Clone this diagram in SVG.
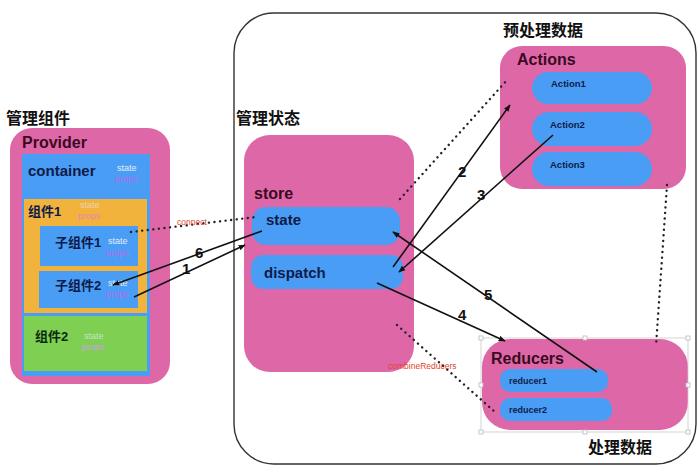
<svg xmlns="http://www.w3.org/2000/svg" width="700" height="476" viewBox="0 0 700 476">
<defs>
<marker id="ah" viewBox="0 0 10 10" refX="9" refY="5" markerWidth="7" markerHeight="7" orient="auto-start-reverse" markerUnits="userSpaceOnUse">
<path d="M0,1 L10,5 L0,9 Z" fill="#111"/>
</marker>
<style>
text{font-family:"Liberation Sans","Noto Sans CJK SC",sans-serif;}
.pink{fill:#DE67A8;}
.blue{fill:#4A9DF4;}
.h{font-size:16px;font-weight:bold;fill:#111;}
.title{font-size:16px;font-weight:bold;fill:#3A0A20;}
.nb{font-weight:bold;fill:#0E1B4A;}
.st{font-size:9px;fill:#E4ECFA;}
.pr{font-size:9px;fill:#B56BF0;}
.arr{stroke:#111;stroke-width:1.6;fill:none;marker-end:url(#ah);}
.dot{stroke:#222;stroke-width:2.4;fill:none;stroke-dasharray:0.1 5.5;stroke-linecap:round;}
.num{font-size:15px;font-weight:bold;fill:#111;}
.red{font-size:8.5px;fill:#E0442A;}
.sel{fill:none;stroke:#C8C8C8;stroke-width:0.8;}
.hd{fill:#fff;stroke:#BBB;stroke-width:0.8;}
</style>
</defs>
<rect width="700" height="476" fill="#fff"/>

<g id="outer">
<rect x="234" y="13" width="462" height="451" rx="40" fill="none" stroke="#333" stroke-width="1.4"/>
</g>

<g id="provider">
<text x="6" y="124" class="h">管理组件</text>
<rect x="10" y="128" width="160" height="256" rx="22" class="pink"/>
<text x="22" y="148" class="title">Provider</text>
<rect x="22" y="154" width="128" height="222" class="blue"/>
<text x="28" y="176" class="nb" font-size="15">container</text>
<text x="117" y="171" class="st">state</text>
<text x="115" y="182" class="pr">props</text>
</g>

<g id="comp1">
<rect x="24" y="199" width="123" height="114" fill="#F2B33D"/>
<text x="28" y="216" class="nb" font-size="13">组件1</text>
<text x="80" y="208" class="st" fill-opacity="0.6">state</text>
<text x="78" y="219" class="pr" style="fill:#E586B0">props</text>
</g>

<g id="child1">
<rect x="40" y="226" width="98" height="40" class="blue"/>
<text x="55" y="247" class="nb" font-size="13">子组件1</text>
<text x="108" y="244" class="st">state</text>
<text x="106" y="256" class="pr">props</text>
</g>

<g id="child2">
<rect x="39" y="271" width="99" height="37" class="blue"/>
<text x="55" y="290" class="nb" font-size="13">子组件2</text>
<text x="108" y="286" class="st">state</text>
<text x="106" y="297" class="pr">props</text>
</g>

<g id="comp2">
<rect x="24" y="316" width="123" height="55" fill="#7FCF52"/>
<text x="35" y="341" class="nb" font-size="13" style="fill:#0B2A10">组件2</text>
<text x="84" y="339" class="st" fill-opacity="0.7">state</text>
<text x="82" y="350" class="pr" style="fill:#C9A0E8">props</text>
</g>

<g id="store">
<text x="236" y="124" class="h">管理状态</text>
<rect x="244" y="135" width="170" height="237" rx="26" class="pink"/>
<text x="254" y="199" class="title">store</text>
</g>
<g id="state">
<rect x="252" y="207" width="148" height="38" rx="14" class="blue"/>
<text x="266" y="225" class="nb" font-size="15">state</text>
</g>
<g id="dispatch">
<rect x="251" y="255" width="152" height="34" rx="12" class="blue"/>
<text x="264" y="278" class="nb" font-size="15">dispatch</text>
</g>

<g id="actions">
<text x="503" y="36" class="h">预处理数据</text>
<rect x="500" y="46" width="186" height="143" rx="22" class="pink"/>
<text x="517" y="65" class="title">Actions</text>
</g>
<g id="action1">
<rect x="532" y="72" width="120" height="32" rx="16" class="blue"/>
<text x="551" y="87" class="nb" font-size="9.5">Action1</text>
</g>
<g id="action2">
<rect x="532" y="112" width="120" height="34" rx="17" class="blue"/>
<text x="550" y="128" class="nb" font-size="9.5">Action2</text>
</g>
<g id="action3">
<rect x="532" y="152" width="120" height="34" rx="17" class="blue"/>
<text x="550" y="168" class="nb" font-size="9.5">Action3</text>
</g>

<g id="reducers">
<rect x="482" y="339" width="206" height="91" rx="28" class="pink"/>
<rect x="481" y="338" width="207" height="94" class="sel"/>
<rect x="479" y="336" width="4" height="4" class="hd"/>
<rect x="583" y="336" width="4" height="4" class="hd"/>
<rect x="686" y="336" width="4" height="4" class="hd"/>
<rect x="479" y="383" width="4" height="4" class="hd"/>
<rect x="686" y="383" width="4" height="4" class="hd"/>
<rect x="479" y="430" width="4" height="4" class="hd"/>
<rect x="583" y="430" width="4" height="4" class="hd"/>
<rect x="686" y="430" width="4" height="4" class="hd"/>
<text x="491" y="364" class="title">Reducers</text>
<text x="588" y="453" class="h">处理数据</text>
</g>
<g id="reducer1">
<rect x="500" y="369" width="108" height="23" rx="10" class="blue"/>
<text x="509" y="384" class="nb" font-size="9">reducer1</text>
</g>
<g id="reducer2">
<rect x="500" y="398" width="112" height="23" rx="10" class="blue"/>
<text x="509" y="413" class="nb" font-size="9">reducer2</text>
</g>

<g id="connectors">
<line x1="131" y1="232" x2="256" y2="217" class="dot"/>
<text x="177" y="225" class="red">connect</text>
<line x1="262" y1="231" x2="113" y2="285" class="arr"/>
<text x="195" y="258" class="num">6</text>
<line x1="134" y1="297" x2="245" y2="245" class="arr"/>
<text x="182" y="274" class="num">1</text>
<line x1="393" y1="267" x2="510" y2="105" class="arr"/>
<text x="458" y="177" class="num">2</text>
<line x1="553" y1="135" x2="399" y2="272" class="arr"/>
<text x="477" y="200" class="num">3</text>
<line x1="597" y1="372" x2="393" y2="232" class="arr"/>
<text x="484" y="300" class="num">5</text>
<line x1="377" y1="283" x2="505" y2="341" class="arr"/>
<text x="458" y="320" class="num">4</text>
<line x1="400" y1="199" x2="508" y2="79" class="dot"/>
<line x1="667" y1="185" x2="656" y2="346" class="dot"/>
<line x1="397" y1="325" x2="495" y2="412" class="dot"/>
<text x="388" y="369" class="red">combineReducers</text>
</g>
</svg>
